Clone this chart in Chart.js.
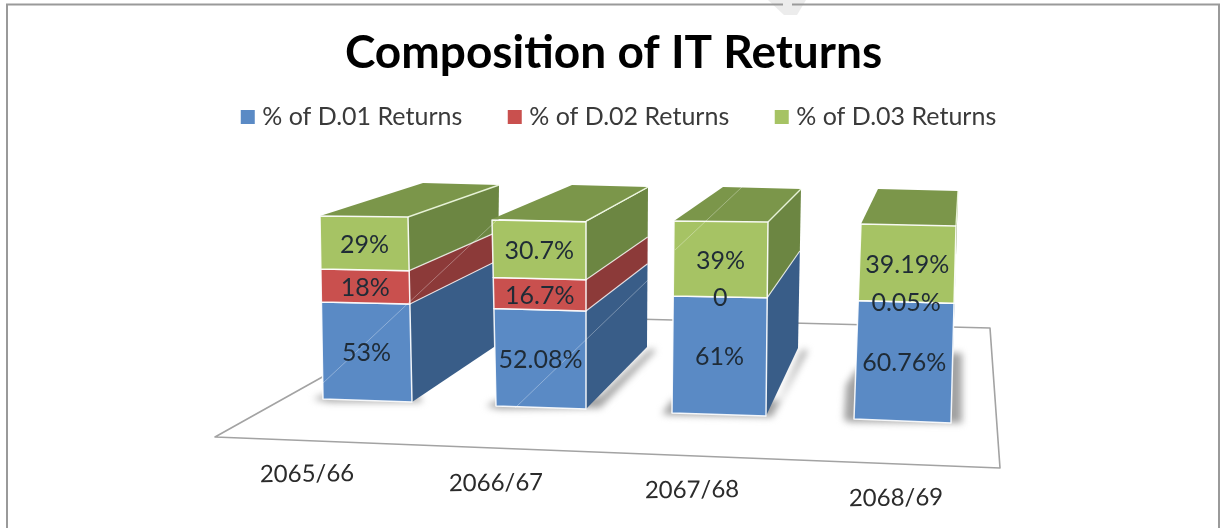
<!DOCTYPE html>
<html><head><meta charset="utf-8">
<style>html,body{margin:0;padding:0;background:#fff}canvas{display:block}</style>
<script src="https://cdn.jsdelivr.net/npm/chart.js@4/dist/chart.umd.min.js"></script>
</head><body><canvas id="c" width="1222" height="528"></canvas>
<script>
const categories = ['2065/66','2066/67','2067/68','2068/69'];
const d01 = [53,52.08,61,60.76];
const d02 = [18,16.7,0,0.05];
const d03 = [29,30.7,39,39.19];

// perspective frame of each column: front face and back edge (not data)
const frames = [
 {TL:[320,216],TR:[408,217],BR:[412,402],BL:[323,399],bTR:[499,185],bBR:[497,345],bTL:[423,183],
  shadow:[[313,399],[323,395],[420,396],[422,402],[330,402]]},
 {TL:[492,219],TR:[586,221],BR:[586,409],BL:[496,406],bTR:[648,187],bBR:[647,347],bTL:[572,185],
  shadow:[[486,406],[496,401],[600,396],[650,349],[656,350],[600,408],[500,409]]},
 {TL:[674,221],TR:[768,222],BR:[766,416],BL:[672,413],bTR:[801,189],bBR:[798,348],bTL:[723,187],
  shadow:[[662,414],[672,400],[780,400],[802,350],[808,350],[772,417],[670,415]]},
 {TL:[861,224],TR:[956,226],BR:[951,423],BL:[854,419],bTR:[958,191],bBR:[953,352],bTL:[878,189],
  shadow:[[844,420],[846,385],[856,370],[950,353],[962,353],[962,423],[850,422]]}
];
const labelPos = [[307,474],[496,483],[692,490],[896,498]];
const sideColors = ['#395d88','#8c3a39','#6c8642'];
const topColor = '#7b964a';
const labelFont = '400 25px Lato';
const tickFont = '400 24px Lato';
const fmt = v => v === 0 ? '0' : v + '%';
const mix = (a,b,t)=>[a[0]+(b[0]-a[0])*t,a[1]+(b[1]-a[1])*t];
function poly(ctx,pts,fill,stroke,w){
  ctx.beginPath();pts.forEach((p,i)=>i?ctx.lineTo(p[0],p[1]):ctx.moveTo(p[0],p[1]));ctx.closePath();
  if(fill){ctx.fillStyle=fill;ctx.fill();}
  if(stroke){ctx.strokeStyle=stroke;ctx.lineWidth=w||1.4;ctx.lineJoin='round';ctx.stroke();}
}

const scene = {
  id:'scene',
  afterLayout(chart){
    const lg=chart.legend;
    lg.left+=8; lg.right+=7; lg.top=54;
  },
  beforeDraw(chart){
    const ctx=chart.ctx;ctx.save();
    ctx.fillStyle='#fff';ctx.fillRect(0,0,1222,528);
    poly(ctx,[[768,0],[806,0],[797,15],[784,15]],'#ececec');
    ctx.strokeStyle='#9a9a9a';ctx.lineWidth=2;
    ctx.beginPath();ctx.moveTo(7,528);ctx.lineTo(7,4.5);ctx.lineTo(783,4.5);ctx.moveTo(792,4.5);ctx.lineTo(1219,4.5);ctx.lineTo(1219,528);ctx.stroke();
    ctx.restore();
  },
  beforeDatasetsDraw(chart){
    const ctx=chart.ctx, y=chart.scales.y;
    ctx.save();
    // floor
    poly(ctx,[[215,437],[435,314],[990,328],[1000,468]],'#ffffff','#a3a3a3',1.6);
    const metas=chart.data.datasets.map((_,i)=>chart.getDatasetMeta(i));
    categories.forEach((_,c)=>{
      const f=frames[c];
      ctx.save();ctx.filter='blur(3.5px)';poly(ctx,f.shadow,'#a2a2a2');ctx.restore();
      const L=(v)=>mix(f.BL,f.TL,v), R=(v)=>mix(f.BR,f.TR,v), B=(v)=>mix(f.bBR,f.bTR,v);
      const segs=metas.map((m,d)=>{
        const el=m.data[c];
        return {d,el,v1:y.getValueForPixel(el.y)/100,v0:y.getValueForPixel(el.base)/100};
      });
      segs.forEach(s=>{ if(s.v1-s.v0>0) poly(ctx,[R(s.v0),R(s.v1),B(s.v1),B(s.v0)],sideColors[s.d]); });
      segs.forEach((s,i)=>{ if(i&&s.v1-s.v0>0){ctx.strokeStyle='rgba(255,255,255,.75)';ctx.lineWidth=1.2;ctx.beginPath();const a=R(s.v0),b=B(s.v0);ctx.moveTo(a[0],a[1]);ctx.lineTo(b[0],b[1]);ctx.stroke();}});
      poly(ctx,[f.TL,f.TR,f.bTR,f.bTL],topColor);
      ctx.strokeStyle='rgba(240,250,225,.9)';ctx.lineWidth=1.4;ctx.beginPath();
      ctx.moveTo(f.TR[0],f.TR[1]);ctx.lineTo(f.bTR[0],f.bTR[1]);ctx.stroke();
      segs.forEach(s=>{ if(s.v1-s.v0>0) poly(ctx,[L(s.v0),R(s.v0),R(s.v1),L(s.v1)],chart.data.datasets[s.d].backgroundColor,'rgba(255,255,255,.9)',1.5); });
    });
    // fine scan lines crossing the picture
    ctx.strokeStyle='rgba(255,255,255,.4)';ctx.lineWidth=.8;
    [[[323,383],[497,220]],[[515,408],[648,280]],[[675,250],[742,187]]].forEach(l=>{ctx.beginPath();ctx.moveTo(l[0][0],l[0][1]);ctx.lineTo(l[1][0],l[1][1]);ctx.stroke();});
    // value labels
    ctx.font=labelFont;ctx.textAlign='center';ctx.textBaseline='middle';ctx.fillStyle='#1f2b36';
    categories.forEach((_,c)=>{
      const f=frames[c];
      metas.forEach((m,d)=>{
        const el=m.data[c], raw=chart.data.datasets[d].data[c];
        const mid=(y.getValueForPixel(el.y)+y.getValueForPixel(el.base))/200;
        const p=mix(mix(f.BL,f.TL,mid),mix(f.BR,f.TR,mid),.5);
        ctx.fillText(fmt(raw),p[0],p[1]+1.5);
      });
    });
    // category labels
    ctx.font=tickFont;ctx.fillStyle='#2b2b2b';
    categories.forEach((t,c)=>{
      ctx.save();ctx.translate(labelPos[c][0],labelPos[c][1]);ctx.rotate(-0.012);ctx.fillText(t,0,0);ctx.restore();
    });
    ctx.restore();
    return false;
  }
};

new Chart(document.getElementById('c'),{
  type:'bar',
  data:{labels:categories,datasets:[
    {label:'% of D.01 Returns',data:d01,backgroundColor:'#5a8ac5'},
    {label:'% of D.02 Returns',data:d02,backgroundColor:'#c9504e'},
    {label:'% of D.03 Returns',data:d03,backgroundColor:'#a6c364'}
  ]},
  options:{
    responsive:false,animation:false,
    layout:{padding:{top:26,left:5}},
    plugins:{
      tooltip:{enabled:false},
      title:{display:true,text:'Composition of IT Returns',color:'#000',font:{family:'Lato',size:46,weight:'bold'},padding:{top:0,bottom:22}},
      legend:{display:true,position:'top',labels:{
        boxWidth:4,boxHeight:4,padding:50.5,color:'#3a3a3a',font:{family:'Lato',size:25},
        generateLabels(chart){
          return Chart.defaults.plugins.legend.labels.generateLabels(chart).map(it=>Object.assign(it,{strokeStyle:it.fillStyle,lineWidth:10,lineJoin:'miter'}));
        }
      }}
    },
    scales:{
      x:{stacked:true,display:false},
      y:{stacked:true,display:false,min:0,max:100}
    }
  },
  plugins:[scene]
});
</script></body></html>
